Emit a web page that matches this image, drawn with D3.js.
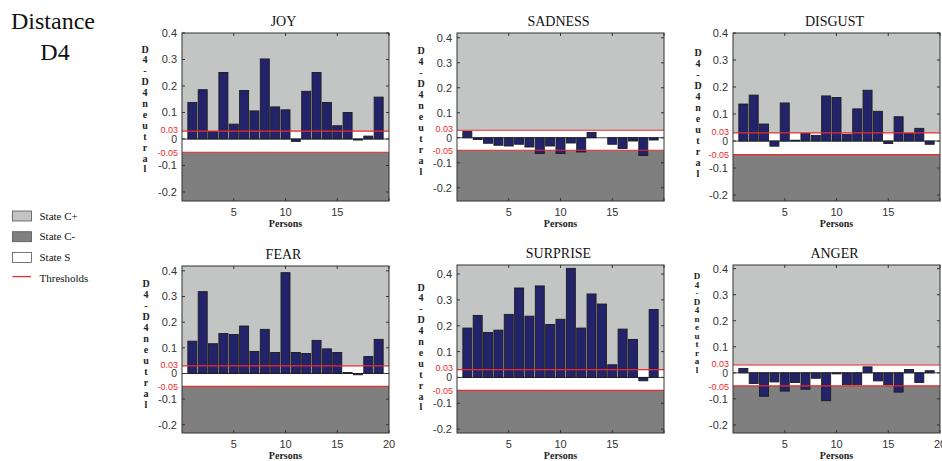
<!DOCTYPE html>
<html>
<head>
<meta charset="utf-8">
<script src="https://cdn.jsdelivr.net/npm/d3@7/dist/d3.min.js"></script>
<style>
  body { margin: 0; background: #fff; }
  svg { display: block; }
</style>
</head>
<body>
<div id="chart"></div>
<script>
// data
const persons = [1, 2, 3, 4, 5, 6, 7, 8, 9, 10, 11, 12, 13, 14, 15, 16, 17, 18, 19];
const emotions = ["JOY", "SADNESS", "DISGUST", "FEAR", "SURPRISE", "ANGER"];
const joy = [0.138, 0.186, 0.028, 0.251, 0.056, 0.183, 0.106, 0.302, 0.121, 0.110, -0.009, 0.180, 0.251, 0.138, 0.050, 0.100, -0.004, 0.011, 0.158];
const sadness = [0.025, -0.007, -0.022, -0.030, -0.033, -0.026, -0.037, -0.063, -0.033, -0.063, -0.021, -0.057, 0.021, 0, -0.026, -0.043, -0.013, -0.071, -0.009];
const disgust = [0.137, 0.170, 0.063, -0.019, 0.141, 0.003, 0.028, 0.021, 0.167, 0.161, 0.025, 0.119, 0.188, 0.110, -0.009, 0.090, 0.028, 0.047, -0.012];
const fear = [0.126, 0.319, 0.116, 0.156, 0.152, 0.185, 0.086, 0.172, 0.082, 0.393, 0.082, 0.078, 0.129, 0.096, 0.082, 0.004, -0.005, 0.066, 0.133];
const surprise = [0.191, 0.240, 0.174, 0.183, 0.244, 0.346, 0.237, 0.354, 0.205, 0.225, 0.422, 0.191, 0.323, 0.284, 0.049, 0.187, 0.147, -0.013, 0.263];
const anger = [0.017, -0.041, -0.090, -0.035, -0.070, -0.037, -0.063, -0.021, -0.107, -0.004, -0.046, -0.046, 0.023, -0.031, -0.046, -0.074, 0.013, -0.037, 0.008];
const seriesValues = [joy, sadness, disgust, fear, surprise, anger];

const thresholds = [0.03, -0.05];
const thresholdLabels = ["0.03", "-0.05"];
const yTicks = [-0.2, -0.1, 0, 0.1, 0.2, 0.3, 0.4];
const yTickLabels = ["-0.2", "-0.1", "0", "0.1", "0.2", "0.3", "0.4"];
const xTicks = [5, 10, 15, 20];
const yLabelText = "D4-D4neutral";
const xLabelText = "Persons";
const legendLabels = ["State C+", "State C-", "State S", "Thresholds"];

// panel layout (pixels) and axis limits
const layout = [
    { left: 182, top: 33,  bottom: 201, yMin: -0.234, yMax: 0.400, show20: false, labX: 145, labY: 49,  labStep: 10.9, labSize: 10 },
    { left: 457, top: 33,  bottom: 201, yMin: -0.253, yMax: 0.419, show20: false, labX: 421, labY: 50,  labStep: 11.0, labSize: 10 },
    { left: 733, top: 33,  bottom: 201, yMin: -0.222, yMax: 0.400, show20: false, labX: 698, labY: 52,  labStep: 11.0, labSize: 10 },
    { left: 182, top: 266, bottom: 433, yMin: -0.232, yMax: 0.419, show20: true,  labX: 146, labY: 283, labStep: 11.0, labSize: 10 },
    { left: 457, top: 265, bottom: 433, yMin: -0.215, yMax: 0.435, show20: false, labX: 421, labY: 287, labStep: 10.9, labSize: 10 },
    { left: 733, top: 265, bottom: 433, yMin: -0.231, yMax: 0.414, show20: true,  labX: 697, labY: 276, labStep: 8.5,  labSize: 9 }
];

const colors = {
    statePlus: "#c3c4c4",
    stateMinus: "#7f7f7f",
    stateS: "#ffffff",
    threshold: "#ec2a2e",
    bar: "#23236b",
    barStroke: "#1c1c1c",
    axis: "#333333",
    text: "#333333"
};

const width = 942, height = 461;
const unitPx = 10.35;
const barWidth = 0.87;

const svg = d3.select("#chart").append("svg")
    .attr("width", width)
    .attr("height", height)
    .attr("viewBox", `0 0 ${width} ${height}`);

// main title
const title = svg.append("g").attr("font-family", "'Liberation Serif', 'Times New Roman', serif")
    .attr("font-size", 24).attr("fill", "#111").attr("text-anchor", "middle");
title.append("text").attr("x", 53).attr("y", 29).text("Distance");
title.append("text").attr("x", 55).attr("y", 60).text("D4");

// legend
const legend = svg.append("g").attr("font-family", "'Liberation Serif', 'Times New Roman', serif")
    .attr("font-size", 11).attr("fill", "#111");
const legendFills = [colors.statePlus, colors.stateMinus, colors.stateS];
legendLabels.forEach((label, i) => {
    const y = 211 + i * 20.7;
    if (i < 3) {
        legend.append("rect").attr("x", 12.5).attr("y", y).attr("width", 19).attr("height", 10)
            .attr("fill", legendFills[i]).attr("stroke", "#555").attr("stroke-width", 0.8);
    } else {
        legend.append("line").attr("x1", 12.5).attr("x2", 31).attr("y1", y + 3.5).attr("y2", y + 3.5)
            .attr("stroke", colors.threshold).attr("stroke-width", 1.3);
    }
    legend.append("text").attr("x", 39.5).attr("y", y + 8.5).text(label);
});

// panels
emotions.forEach((name, pi) => {
    const L = layout[pi];
    const values = seriesValues[pi];
    const x = d3.scaleLinear().domain([0, 20]).range([L.left, L.left + 20 * unitPx]);
    const y = d3.scaleLinear().domain([L.yMin, L.yMax]).range([L.bottom, L.top]);
    const right = x(20);
    const g = svg.append("g");

    // state bands
    g.append("rect").attr("x", L.left).attr("y", y(L.yMax)).attr("width", right - L.left)
        .attr("height", y(thresholds[0]) - y(L.yMax)).attr("fill", colors.statePlus);
    g.append("rect").attr("x", L.left).attr("y", y(thresholds[0])).attr("width", right - L.left)
        .attr("height", y(thresholds[1]) - y(thresholds[0])).attr("fill", colors.stateS);
    g.append("rect").attr("x", L.left).attr("y", y(thresholds[1])).attr("width", right - L.left)
        .attr("height", y(L.yMin) - y(thresholds[1])).attr("fill", colors.stateMinus);

    // zero line
    g.append("line").attr("x1", L.left).attr("x2", right).attr("y1", y(0)).attr("y2", y(0))
        .attr("stroke", "#444").attr("stroke-width", 1);

    // bars
    g.selectAll("rect.bar").data(persons.map((p, i) => ({ p, v: values[i] })).filter(d => d.v !== 0))
        .join("rect").attr("class", "bar")
        .attr("x", d => x(d.p - barWidth / 2))
        .attr("width", d => x(d.p + barWidth / 2) - x(d.p - barWidth / 2))
        .attr("y", d => y(Math.max(0, d.v)))
        .attr("height", d => Math.abs(y(d.v) - y(0)))
        .attr("fill", colors.bar)
        .attr("stroke", colors.barStroke)
        .attr("stroke-width", 0.9);

    // thresholds
    thresholds.forEach(t => {
        g.append("line").attr("x1", L.left).attr("x2", right).attr("y1", y(t)).attr("y2", y(t))
            .attr("stroke", colors.threshold).attr("stroke-width", 1.2);
    });

    // frame
    g.append("rect").attr("x", L.left).attr("y", L.top).attr("width", right - L.left)
        .attr("height", L.bottom - L.top).attr("fill", "none")
        .attr("stroke", colors.axis).attr("stroke-width", 1);

    // y ticks (inward, both sides)
    yTicks.forEach((t, i) => {
        g.append("line").attr("x1", L.left).attr("x2", L.left + 3).attr("y1", y(t)).attr("y2", y(t))
            .attr("stroke", colors.axis);
        g.append("line").attr("x1", right - 3).attr("x2", right).attr("y1", y(t)).attr("y2", y(t))
            .attr("stroke", colors.axis);
        g.append("text").attr("x", L.left - 5).attr("y", y(t)).attr("dy", "0.36em")
            .attr("text-anchor", "end").attr("font-family", "'Liberation Sans', Arial, sans-serif")
            .attr("font-size", t === 0 ? 10.5 : 11).attr("fill", colors.text).text(yTickLabels[i]);
    });
    // red threshold labels, nudged away from the "0" label
    thresholds.forEach((t, i) => {
        g.append("text").attr("x", L.left - 4).attr("y", y(t) + (i === 0 ? -1.5 : 0.5)).attr("dy", "0.36em")
            .attr("text-anchor", "end").attr("font-family", "'Liberation Sans', Arial, sans-serif")
            .attr("font-size", 9).attr("fill", colors.threshold).text(thresholdLabels[i]);
    });

    // x ticks (inward, bottom and top)
    xTicks.forEach(t => {
        g.append("line").attr("x1", x(t)).attr("x2", x(t)).attr("y1", L.bottom).attr("y2", L.bottom - 3)
            .attr("stroke", colors.axis);
        g.append("line").attr("x1", x(t)).attr("x2", x(t)).attr("y1", L.top).attr("y2", L.top + 3)
            .attr("stroke", colors.axis);
        if (t < 20 || L.show20) {
            g.append("text").attr("x", x(t)).attr("y", L.bottom + 14.5).attr("text-anchor", "middle")
                .attr("font-family", "'Liberation Sans', Arial, sans-serif")
                .attr("font-size", 11).attr("fill", colors.text).text(t);
        }
    });

    // axis labels
    g.append("text").attr("x", x(10)).attr("y", L.bottom + 25.5).attr("text-anchor", "middle")
        .attr("font-family", "'Liberation Serif', 'Times New Roman', serif").attr("font-weight", "bold")
        .attr("font-size", 10).attr("fill", "#222").text(xLabelText);
    yLabelText.split("").forEach((ch, i) => {
        g.append("text").attr("x", L.labX).attr("y", L.labY + i * L.labStep).attr("dy", "0.35em")
            .attr("text-anchor", "middle")
            .attr("font-family", "'Liberation Serif', 'Times New Roman', serif").attr("font-weight", "bold")
            .attr("font-size", L.labSize).attr("fill", "#222").text(ch);
    });

    // panel title
    g.append("text").attr("x", x(10) - 2).attr("y", L.top - 7).attr("text-anchor", "middle")
        .attr("font-family", "'Liberation Serif', 'Times New Roman', serif")
        .attr("font-size", 14).attr("fill", "#111").text(name);
});
</script>
</body>
</html>
